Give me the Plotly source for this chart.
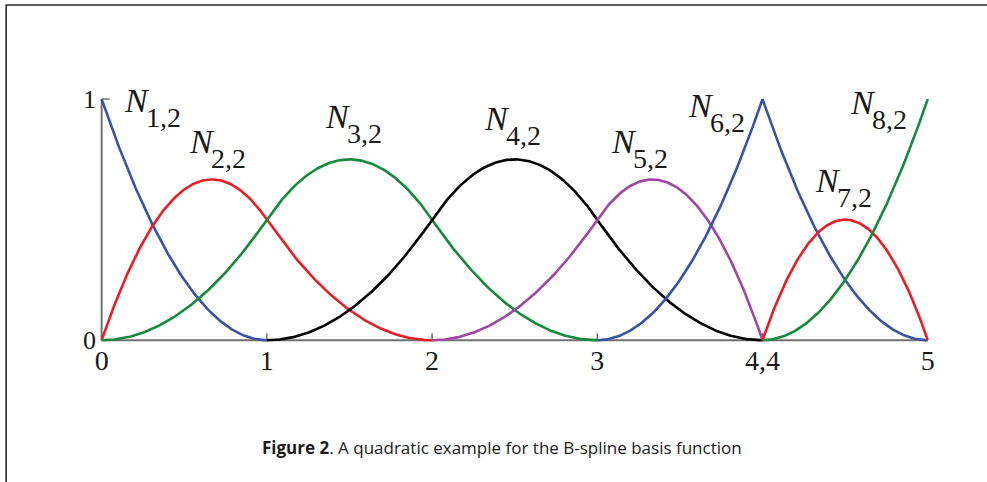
import numpy as np
import plotly.graph_objects as go

# Quadratic B-spline: knot vector and degree
knots = [0, 0, 0, 1, 2, 3, 4, 4, 5, 5, 5]
degree = 2

# Basis function labels (subscripts) and line colours
subscripts = ["1,2", "2,2", "3,2", "4,2", "5,2", "6,2", "7,2", "8,2"]
curve_colors = ["#3953a4", "#ed1c24", "#148a3c", "#000000",
                "#9e47a4", "#3953a4", "#ed1c24", "#148a3c"]

# Where each label's "N" sits (data coordinates)
label_x = [0.215, 0.608, 1.432, 2.394, 3.163, 3.629, 4.398, 4.610]
label_y = [0.996, 0.824, 0.929, 0.921, 0.824, 0.975, 0.661, 0.987]

# Axis ticks
x_tick_vals = [0, 1, 2, 3, 4, 5]
x_tick_text = ["0", "1", "2", "3", "4,4", "5"]
y_tick_vals = [0, 1]
y_tick_text = ["0", "1"]
minor_ticks = [1, 2, 3, 4]

caption = "<b>Figure 2</b>. A quadratic example for the B-spline basis function"


def basis(i, p, t, x):
    """Cox-de Boor recursion, last non-empty span closed on the right."""
    x = np.asarray(x, dtype=float)
    if p == 0:
        inside = (t[i] <= x) & (x < t[i + 1])
        if t[i] < t[i + 1] == t[-1]:
            inside |= (x == t[-1])
        return inside.astype(float)
    out = np.zeros_like(x)
    d1 = t[i + p] - t[i]
    if d1 > 0:
        out += (x - t[i]) / d1 * basis(i, p - 1, t, x)
    d2 = t[i + p + 1] - t[i + 1]
    if d2 > 0:
        out += (t[i + p + 1] - x) / d2 * basis(i + 1, p - 1, t, x)
    return out


W, H = 987, 482
margin = dict(l=99.85, r=51.2, t=75, b=137)
x_range = [-0.01, 5.05]
y_range = [-0.02, 1.1]
plot_w = W - margin["l"] - margin["r"]
plot_h = H - margin["t"] - margin["b"]


def px_x(px):
    return (px - margin["l"]) / plot_w


def px_y(py):
    return (H - margin["b"] - py) / plot_h


fig = go.Figure()

n_funcs = len(knots) - degree - 1
for i in range(n_funcs):
    xs = []
    for j in range(i, i + degree + 1):
        a, b = knots[j], knots[j + 1]
        if b > a:
            xs.append(np.linspace(a, b, 120))
    xs = np.unique(np.concatenate(xs))
    ys = basis(i, degree, knots, xs)
    fig.add_trace(go.Scatter(
        x=xs, y=ys, mode="lines",
        line=dict(color=curve_colors[i], width=2.6),
        hoverinfo="skip", showlegend=False,
    ))

# Labels N_{i,2}
for lx, ly, sub in zip(label_x, label_y, subscripts):
    fig.add_annotation(x=lx, y=ly, text="<i>N</i>", showarrow=False,
                       xanchor="center", yanchor="middle",
                       font=dict(family="Liberation Serif", size=34, color="#1a1a1a"))
    fig.add_annotation(x=lx, y=ly, text=sub, showarrow=False,
                       xanchor="center", yanchor="middle", xshift=26, yshift=-17,
                       font=dict(family="Liberation Serif", size=28, color="#1a1a1a"))

axis_color = "#707070"
shapes = [
    dict(type="line", xref="x", yref="y", x0=0, x1=0, y0=0, y1=1,
         line=dict(color=axis_color, width=2), layer="below"),
    dict(type="line", xref="x", yref="y", x0=0, x1=5, y0=0, y1=0,
         line=dict(color=axis_color, width=2), layer="below"),
    dict(type="line", xref="x", yref="y", xsizemode="pixel", xanchor=0,
         x0=0, x1=8, y0=1, y1=1, line=dict(color=axis_color, width=1.5), layer="below"),
]
for tv in minor_ticks:
    shapes.append(dict(type="line", xref="x", yref="y", ysizemode="pixel", yanchor=0,
                       x0=tv, x1=tv, y0=0, y1=7,
                       line=dict(color=axis_color, width=1.5), layer="below"))
# frame around the figure
shapes.append(dict(type="rect", xref="paper", yref="paper",
                   x0=px_x(6), x1=px_x(1000), y0=px_y(495), y1=px_y(5),
                   line=dict(color="#2b2b2b", width=1.6), layer="below"))

fig.add_annotation(xref="paper", yref="paper", x=px_x(502), y=px_y(447),
                   text=caption, showarrow=False, xanchor="center", yanchor="middle",
                   font=dict(family="Open Sans", size=17, color="#1a1a1a"))

fig.update_layout(
    width=W, height=H, margin=margin,
    paper_bgcolor="white", plot_bgcolor="white",
    shapes=shapes,
    xaxis=dict(range=x_range, tickvals=x_tick_vals, ticktext=x_tick_text,
               showgrid=False, zeroline=False, showline=False, ticks="",
               ticklabelstandoff=-4,
               tickfont=dict(family="Liberation Serif", size=28, color="#1a1a1a")),
    yaxis=dict(range=y_range, tickvals=y_tick_vals, ticktext=y_tick_text,
               showgrid=False, zeroline=False, showline=False, ticks="",
               ticklabelstandoff=3,
               tickfont=dict(family="Liberation Serif", size=26, color="#1a1a1a")),
)

fig.write_html("out.html")
